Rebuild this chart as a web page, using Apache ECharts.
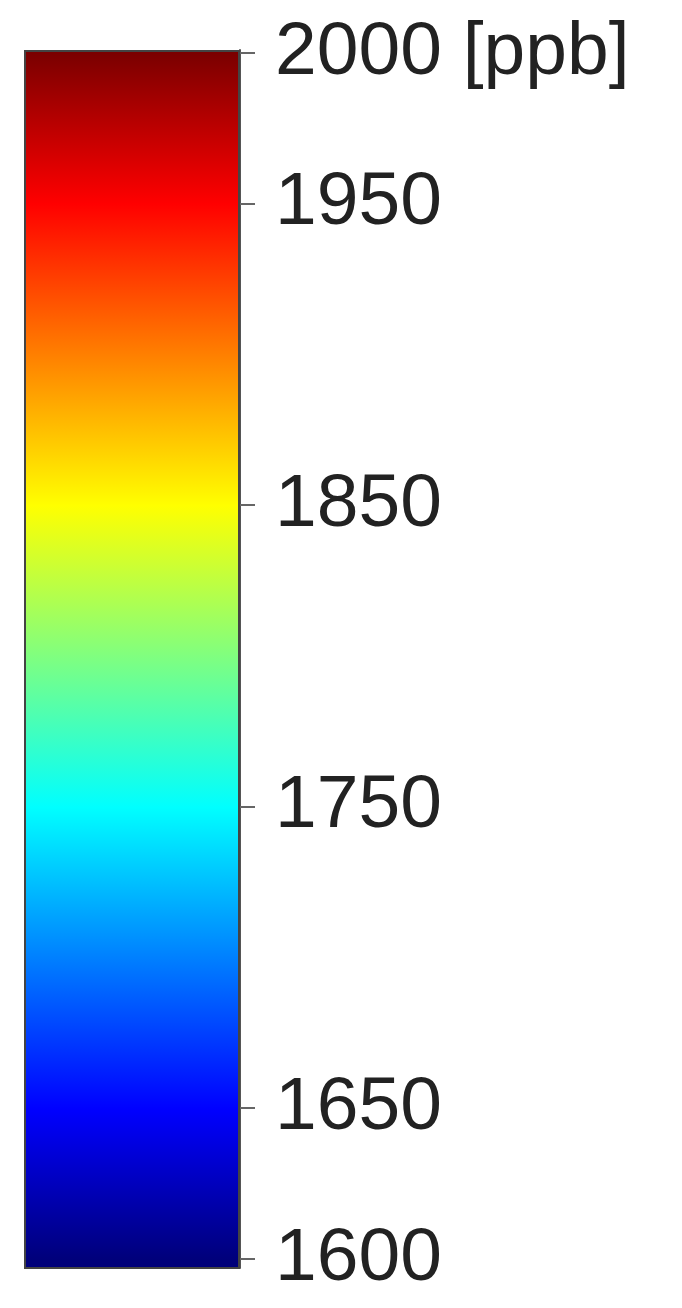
<!DOCTYPE html>
<html>
<head>
<meta charset="utf-8">
<script src="https://cdn.jsdelivr.net/npm/echarts@6/dist/echarts.min.js"></script>
<style>
html,body{margin:0;padding:0;background:#fff;}
#c{width:682px;height:1308px;}
</style>
</head>
<body>
<div id="c"></div>
<script>
// Data
const categories = ['ppb'];
const barValues = [2001];
const tickValues = [1600, 1650, 1750, 1850, 1950, 2000];
const tickLabels = ['1600', '1650', '1750', '1850', '1950', '2000 [ppb]'];
const axisMin = 1597;
const axisMax = 2001;
const jetStops = [
  { value: 1600, color: '#00007a' },
  { value: 1650, color: '#0000ff' },
  { value: 1750, color: '#00ffff' },
  { value: 1850, color: '#ffff00' },
  { value: 1950, color: '#ff0000' },
  { value: 2000, color: '#7a0000' }
];

const chart = echarts.init(document.getElementById('c'), null, { renderer: 'canvas' });
const span = axisMax - axisMin;
const gradStops = jetStops.map(s => ({ offset: (axisMax - s.value) / span, color: s.color }));
gradStops.unshift({ offset: 0, color: jetStops[jetStops.length - 1].color });
gradStops.push({ offset: 1, color: jetStops[0].color });
gradStops.sort((a, b) => a.offset - b.offset);

chart.setOption({
  backgroundColor: '#ffffff',
  animation: false,
  grid: { left: 24, top: 50, width: 216, height: 1218 },
  xAxis: {
    type: 'category',
    data: categories,
    show: false
  },
  yAxis: {
    type: 'value',
    position: 'right',
    min: axisMin,
    max: axisMax,
    splitLine: { show: false },
    axisLine: { show: true, lineStyle: { color: '#555', width: 2 } },
    axisTick: {
      show: true,
      length: 15,
      inside: false,
      customValues: tickValues,
      lineStyle: { color: '#666', width: 2 }
    },
    axisLabel: {
      show: true,
      customValues: tickValues,
      margin: 35,
      color: '#222',
      fontSize: 75,
      fontFamily: 'Liberation Sans, Arial, sans-serif',
      padding: [0, 0, 12, 0],
      formatter: function (v) {
        const i = tickValues.indexOf(v);
        return i >= 0 ? tickLabels[i] : '';
      }
    }
  },
  series: [{
    type: 'bar',
    data: barValues,
    barWidth: '100%',
    itemStyle: {
      borderColor: '#444',
      borderWidth: 2,
      color: new echarts.graphic.LinearGradient(0, 0, 0, 1, gradStops)
    }
  }]
});
</script>
</body>
</html>
